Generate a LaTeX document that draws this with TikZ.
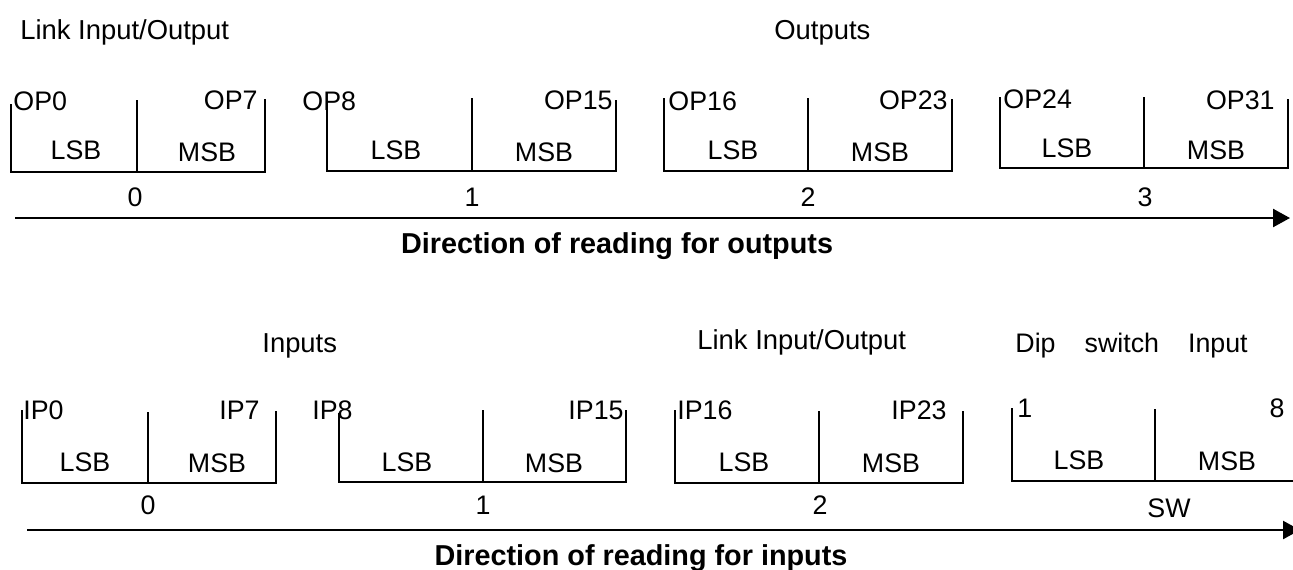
\documentclass[tikz,border=0pt]{standalone}
\usepackage{fontspec}
\setmainfont{Liberation Sans}
\usetikzlibrary{arrows.meta}

\begin{document}
\begin{tikzpicture}[x=0.5pt, y=-0.5pt,
	regline/.style = {line width=0.6pt},
	readarrow/.style = {line width=1.2pt, -{Triangle[length=8.5pt, width=9pt]}},
	lbl/.style = {inner sep=0pt, font=\fontsize{13.4}{15}\selectfont},
	dirlbl/.style = {inner sep=0pt, anchor=base, font=\bfseries\fontsize{14.4}{16}\selectfont}]
	\useasboundingbox (0,0) rectangle (1293,569);
	\clip (0,0) rectangle (1293,569);
	% outputs
	\node [lbl, anchor=base west, font=\fontsize{13.7}{15}\selectfont] (linktop) at (20,39) {Link Input/Output};
	\node [lbl, anchor=base west, font=\fontsize{13.7}{15}\selectfont] (outs) at (774,39) {Outputs};
	\draw [regline] (11,104) -- (11,172) -- (265,172) -- (265,99);
	\draw [regline] (137,100) -- (137,172);
	\draw [regline] (327,102) -- (327,171) -- (616,171) -- (616,100);
	\draw [regline] (472,98) -- (472,171);
	\draw [regline] (664,98) -- (664,171) -- (952,171) -- (952,99);
	\draw [regline] (808,98) -- (808,171);
	\draw [regline] (1000,97) -- (1000,168) -- (1288,168) -- (1288,99);
	\draw [regline] (1144,97) -- (1144,168);
	\node [lbl, anchor=base west] (op0) at (13,110) {OP0};
	\node [lbl, anchor=base east] (op7) at (258,109) {OP7};
	\node [lbl, anchor=base west] (op8) at (302,110) {OP8};
	\node [lbl, anchor=base east] (op15) at (613,109) {OP15};
	\node [lbl, anchor=base west] (op16) at (668,110) {OP16};
	\node [lbl, anchor=base east] (op23) at (948,109) {OP23};
	\node [lbl, anchor=base west] (op24) at (1003,108) {OP24};
	\node [lbl, anchor=base east] (op31) at (1275,109) {OP31};
	\node [lbl, anchor=base] (olsb0) at (76,159) {LSB};
	\node [lbl, anchor=base] (omsb0) at (207,161) {MSB};
	\node [lbl, anchor=base] (olsb1) at (396,159) {LSB};
	\node [lbl, anchor=base] (omsb1) at (544,161) {MSB};
	\node [lbl, anchor=base] (olsb2) at (733,159) {LSB};
	\node [lbl, anchor=base] (omsb2) at (880,161) {MSB};
	\node [lbl, anchor=base] (olsb3) at (1067,157) {LSB};
	\node [lbl, anchor=base] (omsb3) at (1216,159) {MSB};
	\node [lbl, anchor=base] (obyte0) at (135,206) {0};
	\node [lbl, anchor=base] (obyte1) at (472,206) {1};
	\node [lbl, anchor=base] (obyte2) at (808,206) {2};
	\node [lbl, anchor=base] (obyte3) at (1145,206) {3};
	\coordinate (ostart) at (15,218);
	\coordinate (oend) at (1290,218);
	\draw [readarrow] (ostart) -- (oend);
	\node [dirlbl] (odir) at (617,253) {Direction of reading for outputs};
	% inputs
	\node [lbl, anchor=base west, font=\fontsize{13.7}{15}\selectfont] (ins) at (262,352) {Inputs};
	\node [lbl, anchor=base west, font=\fontsize{13.7}{15}\selectfont] (linkbot) at (697,349) {Link Input/Output};
	\node [lbl, anchor=base west] (dip) at (1015,352) {Dip\hspace{14.5pt}switch\hspace{14.5pt}Input};
	\draw [regline] (22,410) -- (22,483) -- (276,483) -- (276,411);
	\draw [regline] (148,412) -- (148,483);
	\draw [regline] (339,413) -- (339,482) -- (626,482) -- (626,410);
	\draw [regline] (483,410) -- (483,482);
	\draw [regline] (675,410) -- (675,483) -- (963,483) -- (963,411);
	\draw [regline] (819,411) -- (819,483);
	\draw [regline] (1012,408) -- (1012,481) -- (1299,481) -- (1299,408);
	\draw [regline] (1155,409) -- (1155,481);
	\node [lbl, anchor=base west] (ip0) at (23,419) {IP0};
	\node [lbl, anchor=base east] (ip7) at (260,419) {IP7};
	\node [lbl, anchor=base west] (ip8) at (312,419) {IP8};
	\node [lbl, anchor=base east] (ip15) at (624,419) {IP15};
	\node [lbl, anchor=base west] (ip16) at (677,419) {IP16};
	\node [lbl, anchor=base east] (ip23) at (947,419) {IP23};
	\node [lbl, anchor=base west] (sw1) at (1017,417) {1};
	\node [lbl, anchor=base east] (sw8) at (1285,417) {8};
	\node [lbl, anchor=base] (ilsb0) at (85,471) {LSB};
	\node [lbl, anchor=base] (imsb0) at (217,472) {MSB};
	\node [lbl, anchor=base] (ilsb1) at (407,471) {LSB};
	\node [lbl, anchor=base] (imsb1) at (554,472) {MSB};
	\node [lbl, anchor=base] (ilsb2) at (744,471) {LSB};
	\node [lbl, anchor=base] (imsb2) at (891,472) {MSB};
	\node [lbl, anchor=base] (ilsb3) at (1079,469) {LSB};
	\node [lbl, anchor=base] (imsb3) at (1227,470) {MSB};
	\node [lbl, anchor=base] (ibyte0) at (148,514) {0};
	\node [lbl, anchor=base] (ibyte1) at (483,514) {1};
	\node [lbl, anchor=base] (ibyte2) at (820,514) {2};
	\node [lbl, anchor=base] (ibyte3) at (1169,517) {SW};
	\coordinate (istart) at (27,530);
	\coordinate (iend) at (1300,530);
	\draw [readarrow] (istart) -- (iend);
	\node [dirlbl] (idir) at (641,565) {Direction of reading for inputs};
\end{tikzpicture}
\end{document}
